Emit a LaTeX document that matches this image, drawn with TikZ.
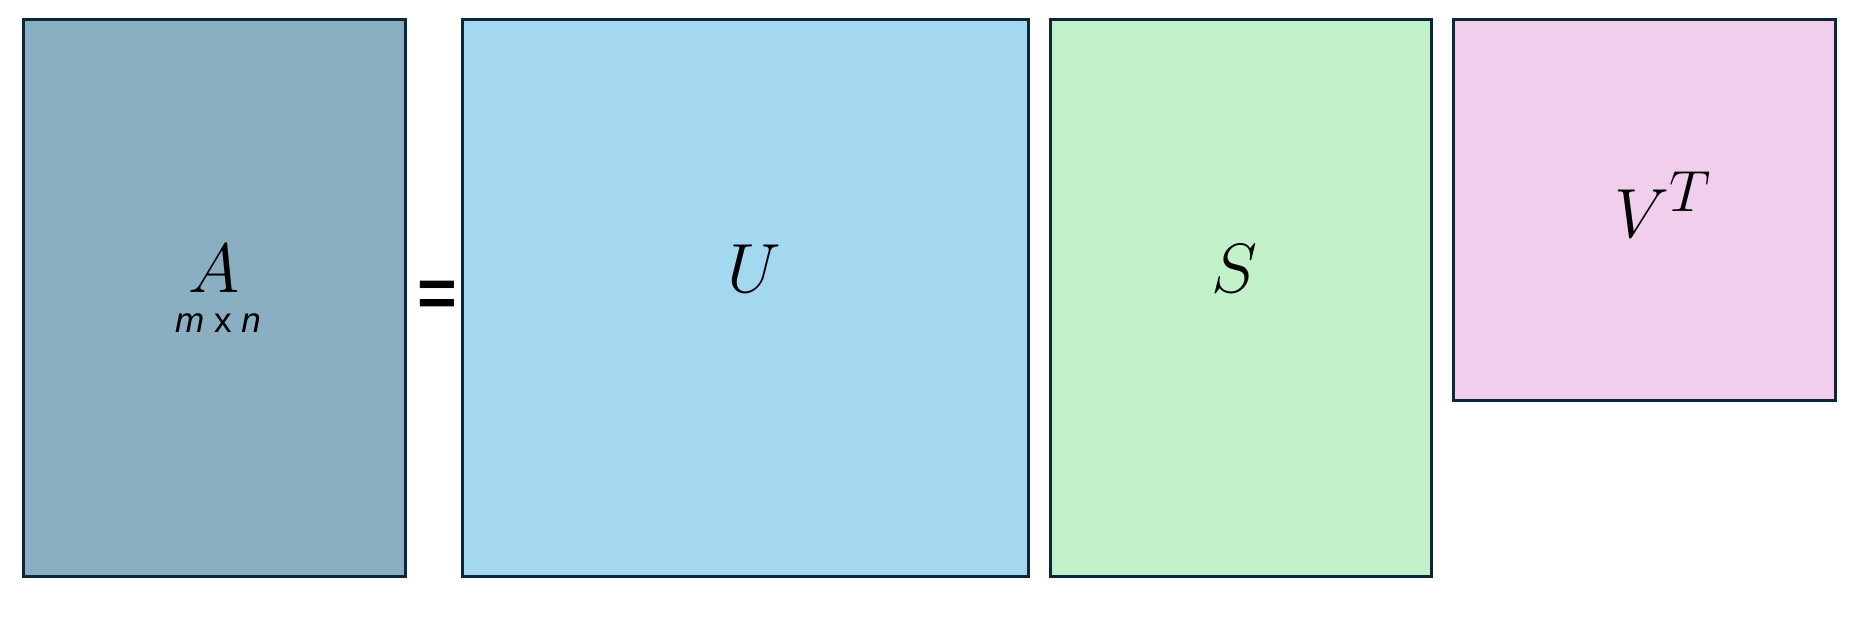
\documentclass[tikz,border=0pt]{standalone}
\usepackage{fontspec}
\setsansfont{Liberation Sans}
\usepackage{graphicx}
\usepackage{tikz}

\definecolor{edgeblue}{HTML}{0C2737}
\definecolor{fillA}{HTML}{8BAFC2}
\definecolor{fillU}{HTML}{A3D8F0}
\definecolor{fillS}{HTML}{C2F0C8}
\definecolor{fillV}{HTML}{F0CEEC}

\newcommand{\bigmath}[1]{\scalebox{1.4}{\fontsize{24.88}{28}\selectfont$#1$}}

\tikzset{
  matbox/.style={rectangle, draw=edgeblue, line width=1.5pt, inner sep=0pt},
  matname/.style={inner sep=0pt, anchor=base},
  dimtext/.style={inner sep=0pt, anchor=base, font=\sffamily\fontsize{17.5}{20}\selectfont},
}

\begin{document}
\begin{tikzpicture}[x=0.5pt, y=-0.5pt]
\useasboundingbox (0,0) rectangle (1872,633);

\node (A) at (214.5, 298) [matbox, fill=fillA, minimum width=191pt, minimum height=278.5pt] {};
\node (U) at (745.5, 298) [matbox, fill=fillU, minimum width=283pt, minimum height=278.5pt] {};
\node (S) at (1241, 298) [matbox, fill=fillS, minimum width=190.5pt, minimum height=278.5pt] {};
\node (V) at (1644.25, 210) [matbox, fill=fillV, minimum width=190.75pt, minimum height=190.5pt] {};

\node (Aname) at (214, 292) [matname] {\bigmath{A}};
\node (Adim) at (218, 332) [dimtext] {\itshape m \upshape x \itshape n};
\node (eq) at (437.5, 316) [inner sep=0pt, anchor=base, font=\sffamily\bfseries\fontsize{34}{40}\selectfont] {=};
\node (Uname) at (754, 292) [matname] {\bigmath{U}};
\node (Sname) at (1234, 292) [matname] {\bigmath{S}};
\node (Vname) at (1663, 237) [matname] {\bigmath{V^T}};
\end{tikzpicture}
\end{document}
